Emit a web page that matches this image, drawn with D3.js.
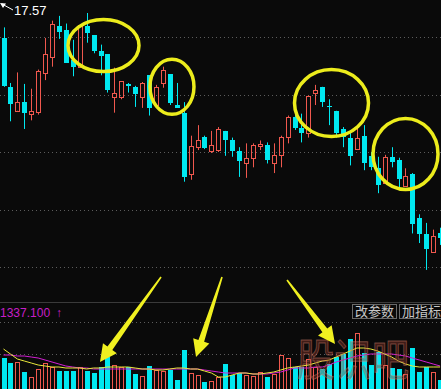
<!DOCTYPE html>
<html>
<head>
<meta charset="utf-8">
<script src="https://cdn.jsdelivr.net/npm/d3@7"></script>
<style>
  body { margin: 0; background: #0a0a0a; }
  svg { display: block; }
</style>
</head>
<body>
<div id="chart"></div>
<script>
// daily candles
const opens  = [17.31,16.80,16.55,16.64,16.52,16.54,16.94,17.11,17.43,17.39,
                17.08,17.01,17.43,17.34,17.17,17.14,16.69,16.69,16.83,16.80,
                16.69,16.92,16.61,16.84,16.93,16.61,16.53,15.89,16.17,16.28,
                16.13,16.14,16.34,16.24,16.13,16.00,16.06,16.18,16.19,16.01,
                16.09,16.28,16.48,16.37,16.32,16.74,16.80,16.60,16.55,16.36,
                16.27,16.15,16.29,16.08,15.95,15.80,16.07,16.04,15.76,15.89,
                15.43,15.26,15.08,15.27];
const highs  = [17.42,16.84,16.95,16.83,16.78,16.98,17.31,17.49,17.54,17.46,
                17.29,17.44,17.57,17.34,17.24,17.14,17.00,16.86,16.84,16.81,
                16.85,16.92,16.82,17.01,16.93,16.84,16.64,16.29,16.40,16.29,
                16.34,16.38,16.34,16.27,16.17,16.21,16.21,16.24,16.22,16.21,
                16.29,16.50,16.51,16.52,16.71,16.82,16.80,16.67,16.55,16.38,
                16.35,16.38,16.40,16.12,16.07,16.09,16.17,16.06,15.95,15.90,
                15.47,15.38,15.31,15.33];
const lows   = [16.80,16.44,16.55,16.36,16.45,16.51,16.87,17.01,17.30,17.05,
                16.91,17.01,17.26,17.15,16.92,16.74,16.53,16.67,16.74,16.59,
                16.58,16.50,16.58,16.79,16.61,16.58,15.81,15.83,16.14,16.15,
                16.11,16.12,16.08,16.07,15.86,15.85,15.96,16.14,16.00,15.90,
                15.96,16.21,16.35,16.22,16.27,16.61,16.59,16.40,16.27,16.17,
                15.98,16.14,15.93,15.93,15.69,15.79,15.96,15.72,15.76,15.27,
                15.17,14.89,15.07,15.15];
const closes = [16.81,16.62,16.64,16.53,16.55,16.96,17.14,17.46,17.37,17.05,
                17.01,17.44,17.36,17.17,17.12,16.77,16.74,16.86,16.81,16.72,
                16.84,16.58,16.80,16.98,16.63,16.58,15.86,16.18,16.25,16.16,
                16.19,16.36,16.24,16.13,16.03,16.06,16.19,16.20,16.04,16.09,
                16.28,16.48,16.37,16.32,16.70,16.77,16.64,16.59,16.32,16.28,
                16.08,16.27,16.00,15.96,15.78,16.07,16.02,15.84,15.87,15.37,
                15.26,15.11,15.24,15.22];

const volumes = [1240,1040,1080,680,480,800,1040,880,720,720,
                 720,880,720,640,880,1280,960,880,880,600,
                 520,920,760,720,760,360,1560,640,560,280,
                 320,480,1000,560,640,560,520,680,480,600,
                 1360,1240,880,880,1200,880,800,1000,1280,1400,
                 2000,2240,1440,960,1480,960,840,800,600,1640,
                 680,880,680,360];
const volMa5 = [1600,1400,1200,1120,1040,960,920,880,880,840,
                840,840,800,840,840,880,880,880,880,840,
                800,800,760,760,800,840,840,800,800,720,
                640,480,480,560,640,640,600,600,640,680,
                760,840,880,920,960,1040,1120,1160,1280,1400,
                1520,1640,1640,1600,1520,1400,1280,1120,1000,920,
                880,880,880,880];
const volMa10 = [1360,1360,1320,1320,1280,1240,1160,1080,1000,920,
                 880,840,840,800,800,800,800,800,800,800,
                 800,800,800,800,800,800,800,800,800,760,
                 720,680,640,640,640,640,600,600,600,640,
                 680,760,840,840,840,880,880,960,1080,1160,
                 1240,1320,1360,1400,1400,1400,1400,1360,1320,1240,
                 1160,1080,1000,920];

const priceGrid = [17.32, 16.71, 16.12, 15.51, 14.92];
const volGrid = [2680, 1400];
const volTop = 3480;

// annotations: ellipses at (candle index, price), arrows from tail to tip in (index, volume)
const rings = [
  {i: 14.43, p: 17.23, rx: 35.5, ry: 26},
  {i: 24.31, p: 16.80, rx: 22, ry: 27.5},
  {i: 47.33, p: 16.63, rx: 37, ry: 33.5},
  {i: 58.01, p: 16.10, rx: 32.5, ry: 35.5}
];
const arrows = [
  {i0: 22.73, v0: 4480, i1: 13.92, v1: 1080},
  {i0: 31.53, v0: 4480, i1: 27.78, v1: 1280},
  {i0: 40.91, v0: 4360, i1: 47.84, v1: 1800}
];

var width = 441, height = 389;
var upColor = '#f0584e', downColor = '#00e8f0';

var svg = d3.select('#chart').append('svg')
  .attr('width', width)
  .attr('height', height);

svg.append('rect').attr('width', width).attr('height', height).attr('fill', '#0a0a0a');

var x = d3.scaleLinear().domain([0, opens.length - 1]).range([3.5, 440.1]);
var y = d3.scaleLinear().domain([14.92, 17.57]).range([267, 13]);
var yVol = d3.scaleLinear().domain([0, volTop]).range([389, 302]);

function cx(i) { return Math.round(x(i)) + 0.5; }

// grid
svg.selectAll('.pgrid').data(priceGrid).enter().append('line')
  .attr('x1', 0).attr('x2', width)
  .attr('y1', d => Math.round(y(d)) + 0.5).attr('y2', d => Math.round(y(d)) + 0.5)
  .attr('stroke', '#5c5c5c').attr('stroke-dasharray', '1,3');
svg.selectAll('.vgrid').data(volGrid).enter().append('line')
  .attr('x1', 0).attr('x2', width)
  .attr('y1', d => Math.round(yVol(d)) + 0.5).attr('y2', d => Math.round(yVol(d)) + 0.5)
  .attr('stroke', '#5c5c5c').attr('stroke-dasharray', '1,3');
svg.append('line')
  .attr('x1', 0).attr('x2', width)
  .attr('y1', Math.round(yVol(volTop)) + 0.5).attr('y2', Math.round(yVol(volTop)) + 0.5)
  .attr('stroke', '#3a3a3a');

var data = opens.map((o, i) => ({i: i, o: o, h: highs[i], l: lows[i], c: closes[i], v: volumes[i]}));

// candles
var candle = svg.selectAll('.candle').data(data).enter().append('g').attr('class', 'candle');
candle.each(function(d) {
  var g = d3.select(this);
  var up = d.c >= d.o;
  var top = Math.round(y(Math.max(d.o, d.c)));
  var bot = Math.round(y(Math.min(d.o, d.c)));
  var hgt = Math.max(bot - top, 1);
  var col = up ? upColor : downColor;
  if (up) {
    g.append('line').attr('x1', cx(d.i)).attr('x2', cx(d.i))
      .attr('y1', y(d.h)).attr('y2', top).attr('stroke', col);
    g.append('line').attr('x1', cx(d.i)).attr('x2', cx(d.i))
      .attr('y1', top + hgt).attr('y2', y(d.l)).attr('stroke', col);
    g.append('rect').attr('x', cx(d.i) - 2).attr('y', top + 0.5)
      .attr('width', 4).attr('height', hgt)
      .attr('fill', 'none').attr('stroke', col);
  } else {
    g.append('line').attr('x1', cx(d.i)).attr('x2', cx(d.i))
      .attr('y1', y(d.h)).attr('y2', y(d.l)).attr('stroke', col);
    g.append('rect').attr('x', cx(d.i) - 2.5).attr('y', top)
      .attr('width', 5).attr('height', hgt).attr('fill', col);
  }
});

// volume bars
svg.selectAll('.vol').data(data).enter().append('rect')
  .attr('class', 'vol')
  .attr('x', d => d.c >= d.o ? cx(d.i) - 2 : cx(d.i) - 2.5)
  .attr('y', d => d.c >= d.o ? Math.round(yVol(d.v)) + 0.5 : Math.round(yVol(d.v)))
  .attr('width', d => d.c >= d.o ? 4 : 5)
  .attr('height', d => 392 - yVol(d.v))
  .attr('fill', d => d.c >= d.o ? 'none' : downColor)
  .attr('stroke', d => d.c >= d.o ? upColor : 'none');

var maLine = d3.line().x((d, i) => x(i)).y(d => yVol(d));
svg.append('path').attr('d', maLine(volMa10)).attr('fill', 'none').attr('stroke', '#d21ed2').attr('stroke-width', 1);
svg.append('path').attr('d', maLine(volMa5)).attr('fill', 'none').attr('stroke', '#e8e83a').attr('stroke-width', 1);

// watermark
svg.append('text')
  .attr('x', 297).attr('y', 376)
  .attr('textLength', 112).attr('lengthAdjust', 'spacingAndGlyphs')
  .style('font-family', '"Noto Sans CJK SC"')
  .style('font-size', '44px')
  .style('fill', 'rgba(150,60,45,0.38)')
  .style('stroke', 'rgba(220,130,110,0.45)')
  .style('stroke-width', 1)
  .text('股识吧');

// yellow rings
svg.selectAll('.ring').data(rings).enter().append('ellipse')
  .attr('cx', d => x(d.i)).attr('cy', d => y(d.p))
  .attr('rx', d => d.rx).attr('ry', d => d.ry)
  .attr('fill', 'none').attr('stroke', '#ecec1c').attr('stroke-width', 3.5);

// yellow arrows
function arrowPoints(x0, y0, x1, y1) {
  var dx = x1 - x0, dy = y1 - y0, len = Math.hypot(dx, dy);
  var ux = dx / len, uy = dy / len, nx = -uy, ny = ux;
  var hl = 17, hw = 8.5, tw = 0.8, nw = 3;
  var bx = x1 - ux * hl, by = y1 - uy * hl;
  return [[x0 + nx * tw, y0 + ny * tw], [bx + nx * nw, by + ny * nw], [bx + nx * hw, by + ny * hw],
          [x1, y1], [bx - nx * hw, by - ny * hw], [bx - nx * nw, by - ny * nw], [x0 - nx * tw, y0 - ny * tw]];
}
svg.selectAll('.arrow').data(arrows).enter().append('polygon')
  .attr('points', d => arrowPoints(x(d.i0), yVol(d.v0), x(d.i1), yVol(d.v1)).map(p => p.join(',')).join(' '))
  .attr('fill', '#f0f020');

// labels
svg.append('line').attr('x1', 2).attr('y1', 4).attr('x2', 13).attr('y2', 10)
  .attr('stroke', '#ffffff').attr('stroke-width', 1);
svg.append('polygon').attr('points', '0,3 6,3.5 3,8').attr('fill', '#ffffff');
svg.append('text')
  .attr('x', 14).attr('y', 15)
  .style('font-family', '"Liberation Sans"').style('font-size', '13px')
  .style('fill', '#ffffff')
  .text('17.57');

svg.append('text')
  .attr('x', 0).attr('y', 317)
  .style('font-family', '"Liberation Sans"').style('font-size', '12px')
  .style('fill', '#c81ec8')
  .text('1337.100');
svg.append('text')
  .attr('x', 56).attr('y', 317)
  .style('font-family', '"Liberation Sans"').style('font-size', '12px')
  .style('fill', '#c81ec8')
  .text('↑');

var buttons = [{label: '改参数', x: 352, w: 44}, {label: '加指标', x: 399, w: 46}];
buttons.forEach(function(b) {
  svg.append('rect').attr('x', b.x + 0.5).attr('y', 304.5).attr('width', b.w).attr('height', 14)
    .attr('fill', '#0a0a0a').attr('stroke', '#6a6a6a');
  svg.append('text')
    .attr('x', b.x + 3).attr('y', 316)
    .style('font-family', '"Noto Sans CJK SC"').style('font-size', '13px')
    .style('fill', '#c8c8c8')
    .text(b.label);
});
</script>
</body>
</html>
